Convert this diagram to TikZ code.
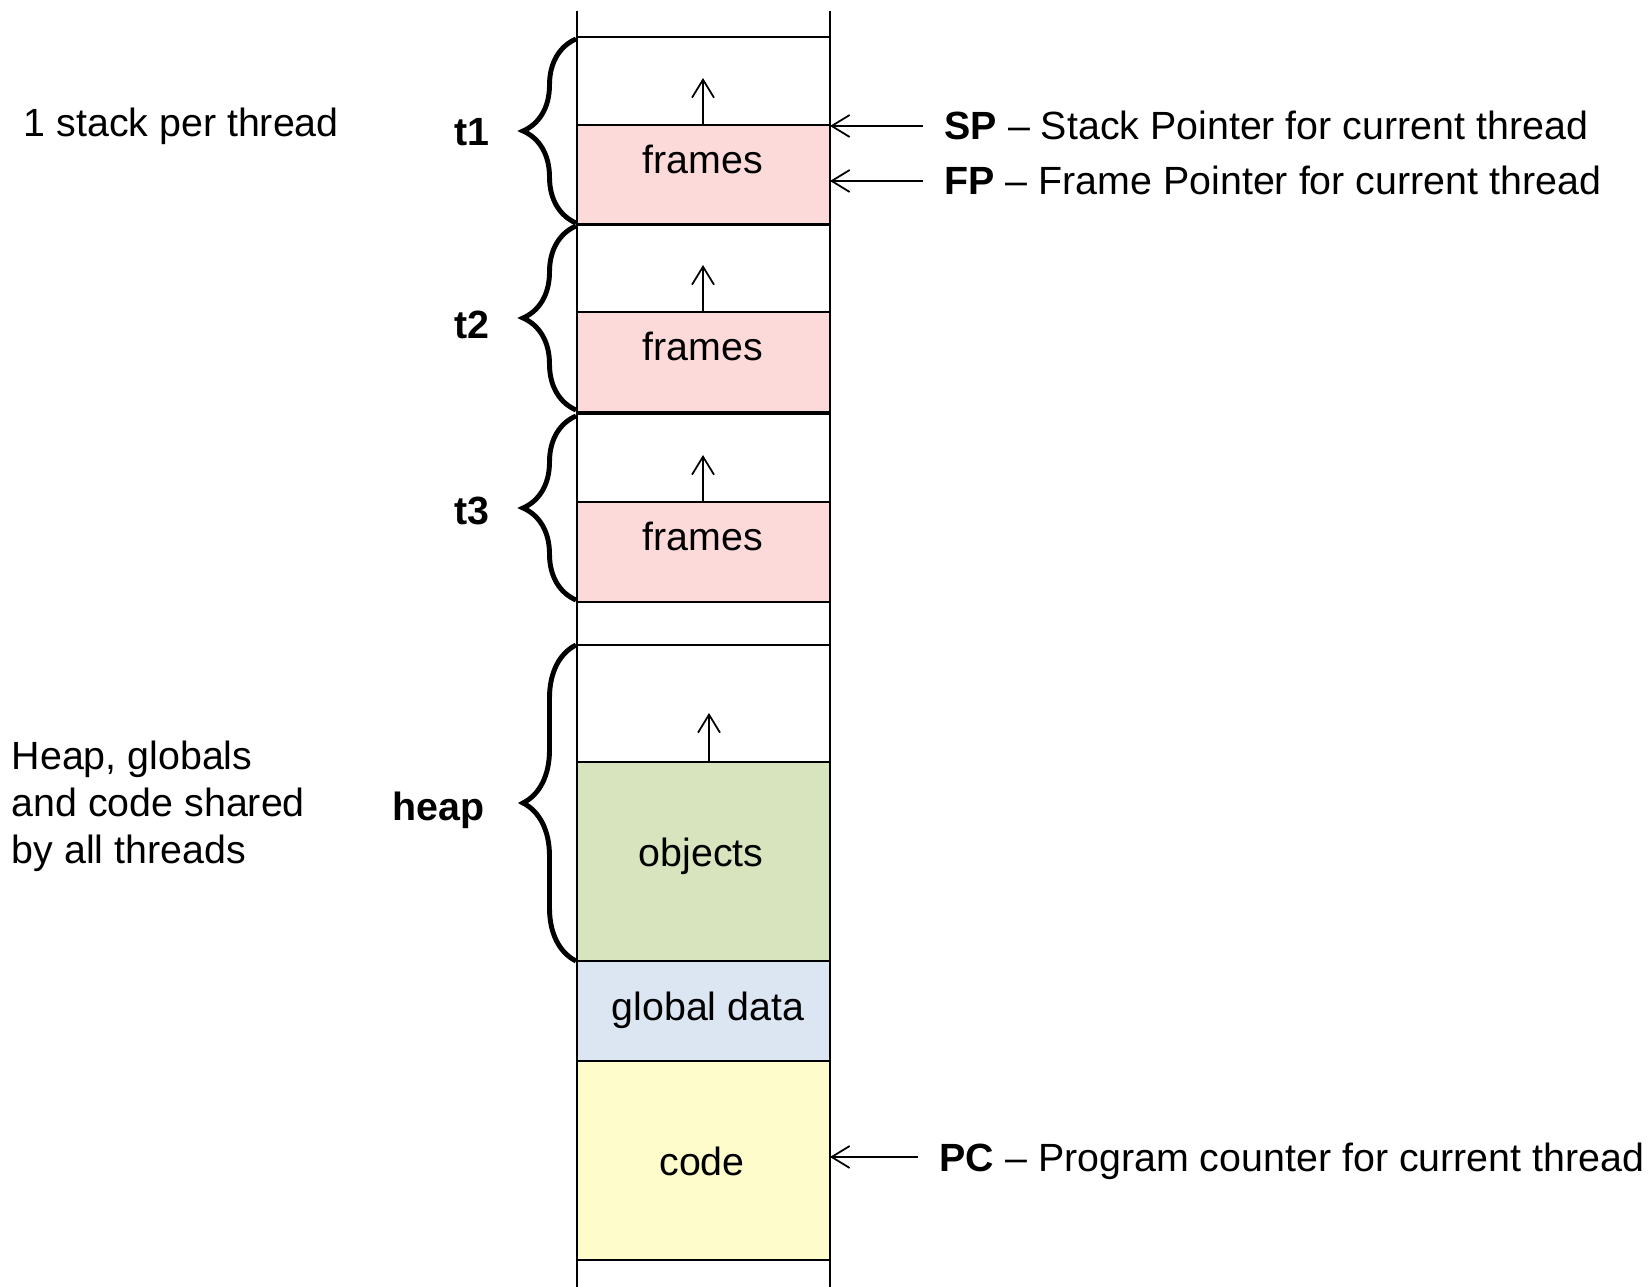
\documentclass[tikz,border=0pt]{standalone}
\usepackage{fontspec}
\setmainfont{Liberation Sans}
\usetikzlibrary{arrows.meta,decorations.pathreplacing}

\definecolor{framesPink}{RGB}{253,218,218}
\definecolor{objectsGreen}{RGB}{216,228,189}
\definecolor{globalsBlue}{RGB}{220,230,242}
\definecolor{codeYellow}{RGB}{255,252,204}
\def\framesColor{framesPink}
\def\objectsColor{objectsGreen}
\def\globalsColor{globalsBlue}
\def\codeColor{codeYellow}

\begin{document}
\begin{tikzpicture}[x=0.1mm, y=-0.1mm,
    cell/.style={draw=black, line width=0.6pt},
    ptrarrow/.style={-{Straight Barb[length=1.8mm, width=2.2mm]}, line width=0.5pt},
    brc/.style={decorate, decoration={brace, amplitude=5.3mm}, line width=1.4pt},
    txt/.style={inner sep=0pt, font=\fontsize{11.2}{13.4}\selectfont},
    lbl/.style={txt, text height=2.8mm, text depth=0pt},
    tag/.style={lbl, font=\fontsize{11.2}{13.4}\selectfont\bfseries}]

    % Define parameters
    \def\xl{577}
    \def\xr{830}
    \def\xm{703}

    \useasboundingbox (0,0) rectangle (1649,1287);
    \coordinate (colL) at (\xl,0);
    \coordinate (colR) at (\xr,0);

    % one stack per thread
    \foreach \i/\top/\ty in {1/37/132, 2/224/325, 3/414/511} {
        \fill[\framesColor] (\xl,\top+88) rectangle (\xr,\top+188);
        \draw[cell] (\xl,\top) rectangle (\xr,\top+188);
        \draw[cell] (\xl,\top+88) -- (\xr,\top+88);
        \node[lbl, anchor=base] (fr\i) at (\xm,\top+137) {frames};
        \draw[ptrarrow] (\xm,\top+88) -- (\xm,\top+41);
        \draw[brc] (\xl-1,\top+186) -- (\xl-1,\top+2);
        \node[tag, anchor=east] (t\i) at (490,\ty) {t\i};
    }

    % heap
    \fill[\objectsColor] (\xl,762) rectangle (\xr,961);
    \draw[cell] (\xl,645) rectangle (\xr,961);
    \draw[cell] (\xl,762) -- (\xr,762);
    \node[lbl, anchor=base] (objects) at (701,867) {objects};
    \draw[ptrarrow] (709,762) -- (709,713);
    \draw[brc] (\xl-1,961) -- (\xl-1,645);
    \node[tag, anchor=east] (heap) at (485,807) {heap};

    % globals and code
    \draw[cell, fill=\globalsColor] (\xl,961) rectangle (\xr,1061);
    \node[lbl, anchor=base] (globals) at (708,1021) {global data};
    \draw[cell, fill=\codeColor] (\xl,1061) rectangle (\xr,1260);
    \node[lbl, anchor=base] (code) at (702,1176) {code};

    \draw[cell] (\xl,11) -- (\xl,1287);
    \draw[cell] (\xr,11) -- (\xr,1287);

    % registers
    \node[lbl, anchor=west] (sp) at (944,126) {\textbf{SP} – Stack Pointer for current thread};
    \node[lbl, anchor=west] (fp) at (944,181) {\textbf{FP} – Frame Pointer for current thread};
    \node[lbl, anchor=west] (pc) at (939,1157) {\textbf{PC} – Program counter for current thread};
    \foreach \p in {sp, fp, pc}
        \draw[ptrarrow] ([xshift=-2.1mm]\p.west) -- (\p.west -| colR);

    % notes
    \node[lbl, anchor=base west] (perthread) at (23,137) {1 stack per thread};
    \node[txt, anchor=north west, align=left] (shared) at (11,740) {Heap, globals\\and code shared\\by all threads};

\end{tikzpicture}
\end{document}
